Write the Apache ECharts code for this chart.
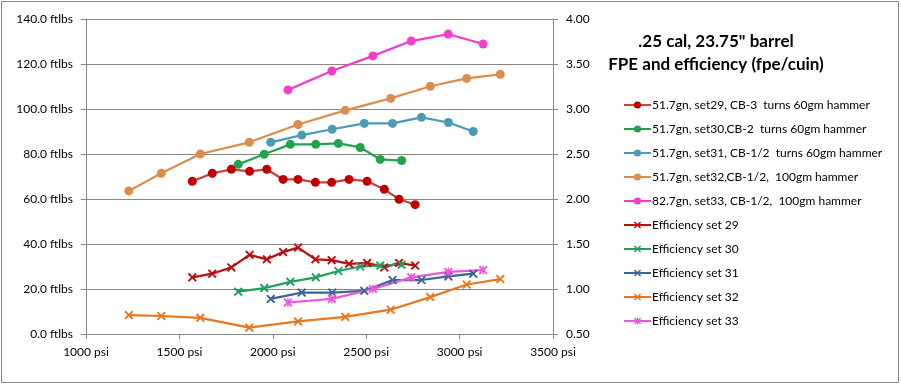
<!DOCTYPE html>
<html>
<head>
<meta charset="utf-8">
<script src="https://cdn.jsdelivr.net/npm/echarts@6/dist/echarts.min.js"></script>
<style>html,body{margin:0;padding:0;background:#fff}#c{width:901px;height:385px}</style>
</head>
<body>
<div id="c"></div>
<script>
// ---- data ----
const titleLines = ['.25 cal, 23.75" barrel', 'FPE and efficiency (fpe/cuin)'];

const fpeNames = [
  '51.7gn, set29, CB-3  turns 60gm hammer',
  '51.7gn, set30,CB-2  turns 60gm hammer',
  '51.7gn, set31, CB-1/2  turns 60gm hammer',
  '51.7gn, set32,CB-1/2,  100gm hammer',
  '82.7gn, set33, CB-1/2,  100gm hammer'
];
const effNames = ['Efficiency set 29', 'Efficiency set 30', 'Efficiency set 31', 'Efficiency set 32', 'Efficiency set 33'];

const psi29 = [1569, 1676, 1778, 1876, 1968, 2055, 2135, 2228, 2315, 2408, 2505, 2597, 2676, 2762];
const fpe29 = [67.9, 71.4, 73.2, 72.3, 73.2, 68.7, 68.7, 67.4, 67.4, 68.7, 67.9, 64.3, 59.9, 57.5];
const eff29 = [1.13, 1.17, 1.24, 1.38, 1.33, 1.41, 1.46, 1.33, 1.32, 1.28, 1.29, 1.24, 1.29, 1.26];

const psi30 = [1815, 1954, 2094, 2230, 2351, 2468, 2575, 2690];
const fpe30 = [75.4, 79.9, 84.3, 84.3, 84.7, 82.9, 77.6, 77.1];
const eff30 = [0.97, 1.01, 1.08, 1.13, 1.20, 1.25, 1.26, 1.27];

const psi31 = [1989, 2155, 2318, 2490, 2641, 2796, 2940, 3073];
const fpe31 = [85.2, 88.4, 91.0, 93.6, 93.6, 96.3, 94.0, 90.0];
const eff31 = [0.89, 0.96, 0.96, 0.98, 1.10, 1.10, 1.14, 1.17];

const psi32 = [1229, 1403, 1612, 1874, 2135, 2388, 2631, 2843, 3038, 3218];
const fpe32 = [63.6, 71.4, 80.0, 85.2, 93.1, 99.4, 104.7, 110.1, 113.6, 115.4];
const eff32 = [0.71, 0.70, 0.68, 0.57, 0.64, 0.69, 0.77, 0.91, 1.05, 1.11];

const psi33 = [2081, 2316, 2536, 2741, 2939, 3126];
const fpe33 = [108.5, 116.9, 123.6, 130.2, 133.3, 128.9];
const eff33 = [0.85, 0.89, 1.00, 1.13, 1.19, 1.21];

const xTicks = {min: 1000, max: 3500, step: 500};
const yLeftTicks = {min: 0, max: 140, step: 20};
const yRightTicks = {min: 0.5, max: 4.0, step: 0.5};

// ---- styles ----
const FONT = 'Lato';
const fpeLine = ['#BC4744', '#25A250', '#4A9BB6', '#DB8D4E', '#F23EC8'];
const fpeMark = ['#C00000', '#22A24A', '#4A9BB6', '#DB8D4E', '#F23EC8'];
const effLine = ['#B80F12', '#20A060', '#3D6594', '#E8771E', '#EE55D8'];
const X_PATH = 'path://M0,1.5L1.5,0L5,3.5L8.5,0L10,1.5L6.5,5L10,8.5L8.5,10L5,6.5L1.5,10L0,8.5L3.5,5Z';
const STAR_PATH = 'path://M0,1.5L1.5,0L5,3.5L8.5,0L10,1.5L6.5,5L10,8.5L8.5,10L5,6.5L1.5,10L0,8.5L3.5,5Z M4.3,0L5.7,0L5.7,10L4.3,10Z';

const psiSets = [psi29, psi30, psi31, psi32, psi33];
const fpeSets = [fpe29, fpe30, fpe31, fpe32, fpe33];
const effSets = [eff29, eff30, eff31, eff32, eff33];

function zip(a, b) { return a.map((v, i) => [v, b[i]]); }

const series = [];
fpeSets.forEach((d, i) => {
  series.push({
    name: fpeNames[i], type: 'line', yAxisIndex: 0,
    data: zip(psiSets[i], d),
    symbol: 'circle', symbolSize: 9,
    lineStyle: {color: fpeLine[i], width: 2.25},
    itemStyle: {color: fpeMark[i]},
    emphasis: {disabled: true}, animation: false
  });
});
effSets.forEach((d, i) => {
  series.push({
    name: effNames[i], type: 'line', yAxisIndex: 1,
    data: zip(psiSets[i], d),
    symbol: i === 4 ? STAR_PATH : X_PATH, symbolSize: 9,
    lineStyle: {color: effLine[i], width: 2.25},
    itemStyle: {color: effLine[i]},
    emphasis: {disabled: true}, animation: false
  });
});

const axisCol = '#868686';
const chart = echarts.init(document.getElementById('c'), null, {renderer: 'canvas'});
chart.setOption({
  animation: false,
  textStyle: {fontFamily: FONT},
  grid: {left: 86, right: 348, top: 19, bottom: 51, containLabel: false},
  xAxis: {
    type: 'value', min: xTicks.min, max: xTicks.max, interval: xTicks.step,
    axisLine: {show: true, lineStyle: {color: axisCol}},
    axisTick: {show: true, length: 5, lineStyle: {color: axisCol}},
    splitLine: {show: false},
    axisLabel: {formatter: v => v + ' psi', color: '#000', fontSize: 12, fontFamily: FONT, margin: 12}
  },
  yAxis: [{
    type: 'value', min: yLeftTicks.min, max: yLeftTicks.max, interval: yLeftTicks.step, position: 'left',
    axisLine: {show: true, lineStyle: {color: axisCol}},
    axisTick: {show: true, length: 5, lineStyle: {color: axisCol}},
    splitLine: {show: true, lineStyle: {color: axisCol, width: 1}},
    axisLabel: {formatter: v => v.toFixed(1) + ' ftlbs', color: '#000', fontSize: 12, fontFamily: FONT, margin: 13}
  }, {
    type: 'value', min: yRightTicks.min, max: yRightTicks.max, interval: yRightTicks.step, position: 'right',
    axisLine: {show: true, lineStyle: {color: axisCol}},
    axisTick: {show: true, length: 5, lineStyle: {color: axisCol}},
    splitLine: {show: false},
    axisLabel: {formatter: v => v.toFixed(2), color: '#000', fontSize: 12, fontFamily: FONT, margin: 13}
  }],
  legend: {
    orient: 'vertical', left: 618, top: 93,
    itemWidth: 27, itemHeight: 9, itemGap: 10,
    textStyle: {fontSize: 12, fontFamily: FONT, color: '#000', lineHeight: 14, padding: [0, 0, 0, -4]},
    data: fpeNames.concat(effNames)
  },
  graphic: [
    {type: 'rect', shape: {x: 1.5, y: 1.5, width: 897, height: 381}, style: {fill: 'none', stroke: '#888', lineWidth: 1}, silent: true},
    {type: 'text', x: 716, y: 42, style: {text: titleLines[0], font: 'bold 17px ' + FONT, fill: '#000', textAlign: 'center', textVerticalAlign: 'middle'}},
    {type: 'text', x: 716, y: 65, style: {text: titleLines[1], font: 'bold 17px ' + FONT, fill: '#000', textAlign: 'center', textVerticalAlign: 'middle'}}
  ],
  series: series
});
</script>
</body>
</html>
